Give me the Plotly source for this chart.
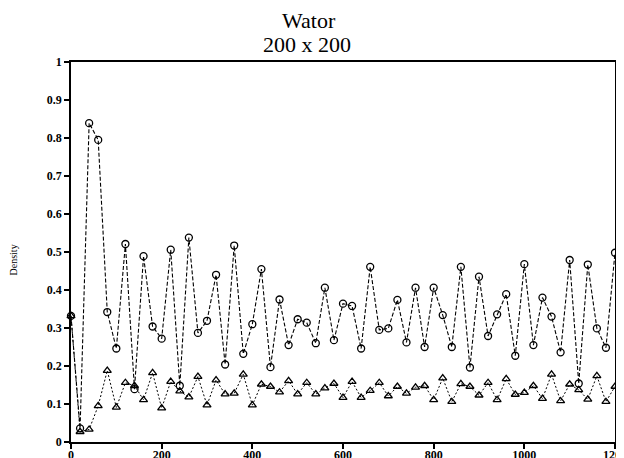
import plotly.graph_objects as go

steps = list(range(0, 1201, 20))

fish = [0.332, 0.036, 0.839, 0.795, 0.342, 0.246, 0.521, 0.139, 0.489, 0.304,
        0.272, 0.506, 0.148, 0.538, 0.287, 0.319, 0.440, 0.204, 0.517, 0.232,
        0.310, 0.455, 0.197, 0.375, 0.255, 0.323, 0.314, 0.260, 0.406, 0.268,
        0.364, 0.358, 0.246, 0.461, 0.295, 0.299, 0.374, 0.262, 0.406, 0.250,
        0.406, 0.334, 0.250, 0.461, 0.196, 0.435, 0.279, 0.336, 0.389, 0.227,
        0.468, 0.255, 0.380, 0.330, 0.236, 0.479, 0.154, 0.467, 0.299, 0.248,
        0.498]

sharks = [0.332, 0.027, 0.033, 0.095, 0.188, 0.091, 0.156, 0.148, 0.111, 0.182,
          0.089, 0.159, 0.134, 0.118, 0.172, 0.097, 0.163, 0.126, 0.128, 0.178,
          0.097, 0.152, 0.146, 0.131, 0.161, 0.126, 0.156, 0.126, 0.142, 0.154,
          0.117, 0.159, 0.117, 0.135, 0.156, 0.121, 0.146, 0.128, 0.144, 0.148,
          0.111, 0.168, 0.106, 0.153, 0.146, 0.123, 0.156, 0.111, 0.166, 0.125,
          0.130, 0.148, 0.114, 0.178, 0.108, 0.152, 0.137, 0.112, 0.174, 0.106,
          0.146]

x_ticks = [0, 200, 400, 600, 800, 1000, 1200]
y_ticks = [0, 0.1, 0.2, 0.3, 0.4, 0.5, 0.6, 0.7, 0.8, 0.9, 1]

FONT = "Liberation Serif"

fig = go.Figure()
fig.add_trace(go.Scatter(
    x=steps, y=fish, mode="lines+markers",
    line=dict(color="black", width=1.1, dash="4px,2px"),
    marker=dict(symbol="circle-open", size=7, color="black", line=dict(width=1.3)),
    showlegend=False, cliponaxis=False))
fig.add_trace(go.Scatter(
    x=steps, y=sharks, mode="lines+markers",
    line=dict(color="black", width=1, dash="2px,2px"),
    marker=dict(symbol="triangle-up-open", size=7, color="black", line=dict(width=1.3)),
    showlegend=False, cliponaxis=False))

fig.update_layout(
    width=616, height=450,
    margin=dict(l=63, r=9, t=54, b=16, autoexpand=False),
    paper_bgcolor="white", plot_bgcolor="white",
    font=dict(family=FONT, color="black", size=12),
    xaxis=dict(range=[0, 1200], tickvals=x_ticks, ticktext=[str(v) for v in x_ticks],
               showline=True, linecolor="black", linewidth=1.5, mirror=True,
               ticks="outside", ticklen=5, tickwidth=1.5, tickcolor="black",
               showgrid=False, zeroline=False, automargin=False,
               ticklabeloverflow="allow", ticklabelstandoff=-4,
               tickfont=dict(family=FONT, size=12, color="black", weight="bold")),
    yaxis=dict(range=[0, 1], tickvals=y_ticks, ticktext=[("%g" % v) for v in y_ticks],
               showline=True, linecolor="black", linewidth=1.5, mirror=True,
               ticks="outside", ticklen=5, tickwidth=1.5, tickcolor="black",
               showgrid=False, zeroline=False, automargin=False,
               ticklabeloverflow="allow",
               tickfont=dict(family=FONT, size=12, color="black", weight="bold")),
    annotations=[
        dict(text="Wator", xref="paper", yref="paper", x=0.437, y=1.108,
             showarrow=False, xanchor="center", yanchor="middle",
             font=dict(family=FONT, size=22, color="black")),
        dict(text="200 x 200", xref="paper", yref="paper", x=0.434, y=1.047,
             showarrow=False, xanchor="center", yanchor="middle",
             font=dict(family=FONT, size=22, color="black")),
        dict(text="Density", xref="paper", yref="paper",
             x=-0.105, y=0.48, textangle=-90, showarrow=False,
             xanchor="center", yanchor="middle",
             font=dict(family=FONT, size=10, color="black"))],
)

fig.write_html("out.html")
